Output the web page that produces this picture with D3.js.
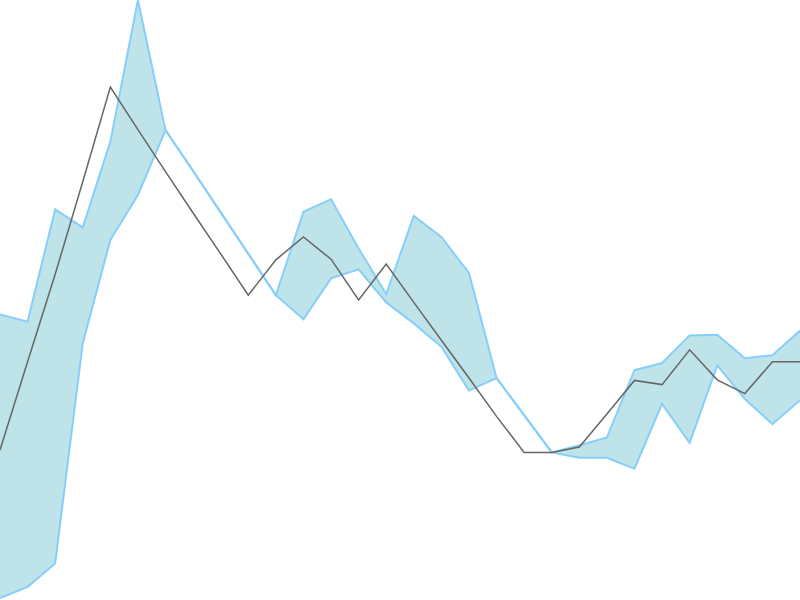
<!DOCTYPE html>
<html>
<head>
<meta charset="utf-8">
<script src="https://cdn.jsdelivr.net/npm/d3@7"></script>
<style>
  html, body { margin: 0; padding: 0; background: #fff; }
  svg { display: block; }
</style>
</head>
<body>
<div id="chart"></div>
<script>
// band edges (two series that form the shaded range) and the grey reference line
const seriesA = [47.6, 46.4, 65.1, 62.1, 76.4, 100, 78.3, 71.5, 64.6, 57.7,
                 50.8, 64.7, 66.8, 58.6, 51.0, 64.0, 60.5, 54.5, 37.0, 30.8,
                 24.6, 25.8, 27.1, 38.3, 39.5, 44.1, 44.2, 40.3, 40.8, 44.9];
const seriesB = [0.3, 2.2, 6.1, 42.8, 60.0, 67.5, 78.3, 71.5, 64.6, 57.7,
                 50.8, 46.8, 53.6, 55.1, 49.6, 46.1, 42.2, 34.9, 37.0, 30.8,
                 24.6, 23.7, 23.7, 21.9, 32.7, 26.2, 39.1, 33.5, 29.3, 33.3];
const reference = [25.0, 39.7, 54.3, 69.7, 85.5, 78.4, 71.4, 64.5, 57.7, 50.8,
                   56.7, 60.5, 56.8, 50.0, 56.0, 49.6, 43.3, 37.0, 30.6, 24.6,
                   24.6, 25.5, 31.0, 36.6, 35.9, 41.7, 36.7, 34.4, 39.7, 39.7];

(function() {
    'use strict';

    const width = 800;
    const height = 600;

    const data = seriesA.map((a, i) => ({ i: i, a: a, b: seriesB[i], r: reference[i] }));

    const x = d3.scaleLinear()
        .domain([0, data.length - 1])
        .range([0, width]);

    const y = d3.scaleLinear()
        .domain([0, 100])
        .range([height, 0]);

    const svg = d3.select('#chart')
        .append('svg')
        .attr('width', width)
        .attr('height', height);

    // shaded range between the two series
    const area = d3.area()
        .x(d => x(d.i))
        .y0(d => y(d.b))
        .y1(d => y(d.a));

    svg.append('path')
        .datum(data)
        .attr('d', area)
        .attr('fill', '#bee3e8')
        .attr('stroke', 'none');

    const edge = key => d3.line()
        .x(d => x(d.i))
        .y(d => y(d[key]));

    ['a', 'b'].forEach(key => {
        svg.append('path')
            .datum(data)
            .attr('d', edge(key))
            .attr('fill', 'none')
            .attr('stroke', '#87cefa')
            .attr('stroke-width', 2)
            .attr('stroke-linejoin', 'miter');
    });

    // grey line on top
    svg.append('path')
        .datum(data)
        .attr('d', edge('r'))
        .attr('fill', 'none')
        .attr('stroke', '#666')
        .attr('stroke-width', 1.5);
})();
</script>
</body>
</html>
